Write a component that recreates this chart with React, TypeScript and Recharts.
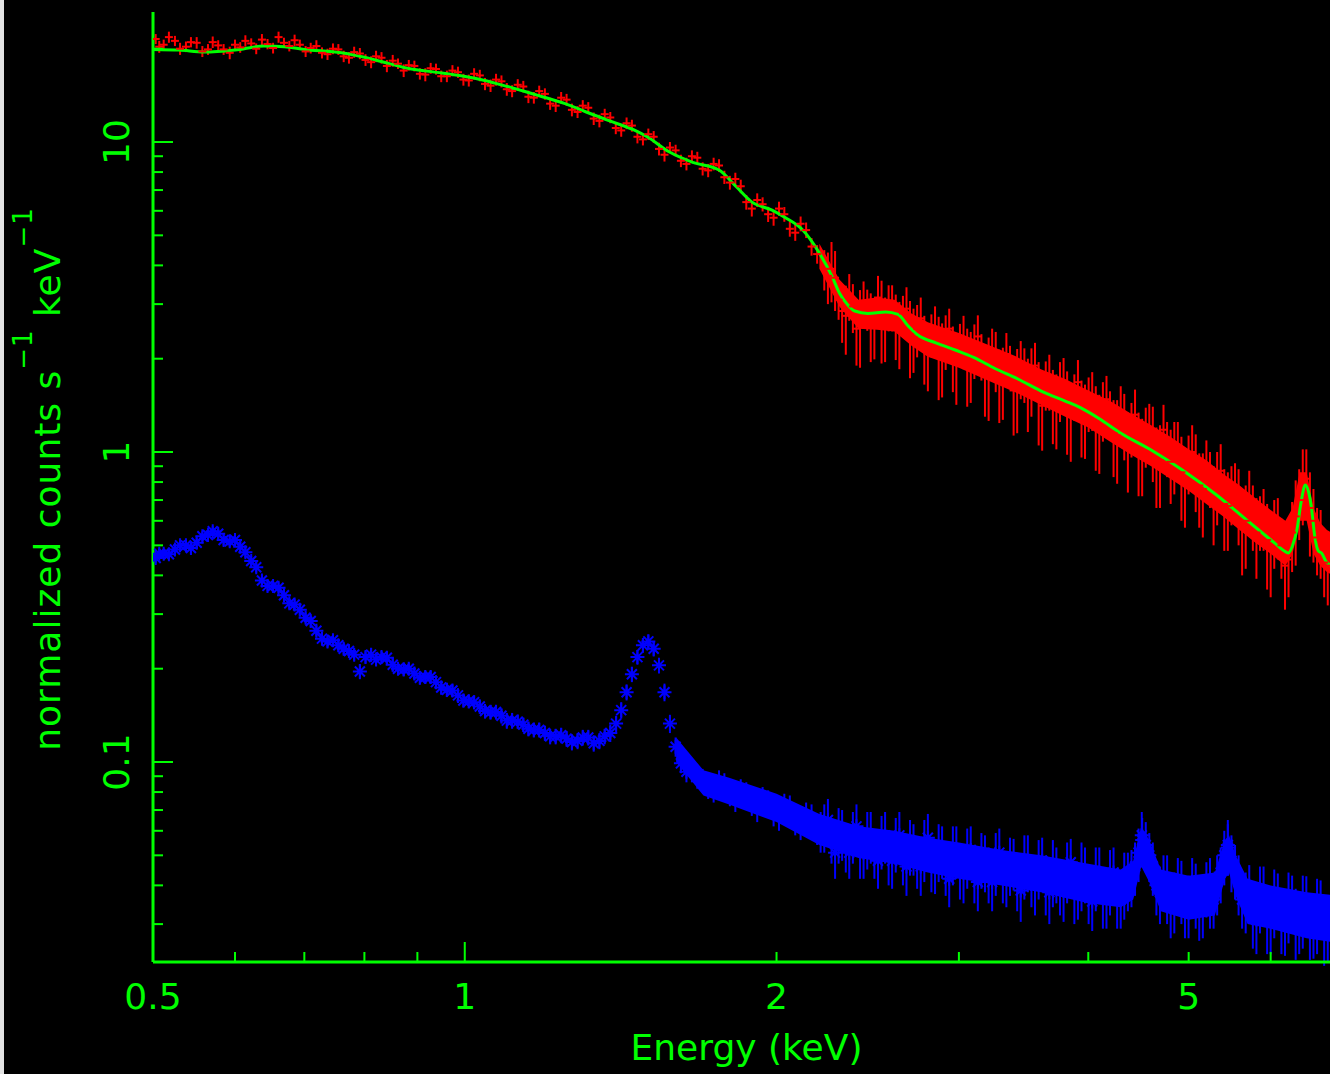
import React from "react";
import { ComposedChart, XAxis, YAxis, Scatter, Line, Area, ErrorBar } from "recharts";

const GREEN = "#00ff00";
const RED = "#ff0000";
const BLUE = "#0000ff";
const FONT = "'DejaVu Sans', Verdana, sans-serif";

// source spectrum (red), energy in keV
const redE = [
  0.503, 0.507, 0.512, 0.518, 0.525, 0.531, 0.538, 0.544, 0.551, 0.558,
  0.565, 0.571, 0.578, 0.585, 0.593, 0.6, 0.607, 0.614, 0.622, 0.629,
  0.637, 0.645, 0.653, 0.661, 0.669, 0.677, 0.685, 0.693, 0.702, 0.71,
  0.719, 0.728, 0.737, 0.746, 0.755, 0.764, 0.773, 0.782, 0.792, 0.802,
  0.812, 0.821, 0.831, 0.841, 0.852, 0.862, 0.873, 0.883, 0.894, 0.905,
  0.916, 0.927, 0.938, 0.949, 0.961, 0.973, 0.985, 0.997, 1.009, 1.021,
  1.034, 1.046, 1.059, 1.072, 1.085, 1.098, 1.111, 1.125, 1.139, 1.152,
  1.166, 1.18, 1.195, 1.209, 1.224, 1.239, 1.254, 1.269, 1.285, 1.3,
  1.316, 1.332, 1.349, 1.365, 1.382, 1.399, 1.416, 1.433, 1.45, 1.468,
  1.486, 1.504, 1.522, 1.54, 1.559, 1.578, 1.598, 1.617, 1.637, 1.657,
  1.677, 1.697, 1.718, 1.739, 1.76, 1.781, 1.803, 1.825, 1.847, 1.87,
  1.893, 1.916, 1.939, 1.963, 1.987, 2.011, 2.035, 2.06, 2.085, 2.11,
  2.136, 2.162, 2.189,
  2.224, 2.26, 2.296, 2.333, 2.37, 2.408, 2.447, 2.486, 2.526, 2.566,
  2.607, 2.649, 2.691, 2.734, 2.778, 2.822, 2.868, 2.913, 2.96, 3.007,
  3.056, 3.105, 3.154, 3.205, 3.256, 3.308, 3.361, 3.415, 3.47, 3.525,
  3.582, 3.639, 3.697, 3.756, 3.816, 3.878, 3.94, 4.003, 4.067, 4.132,
  4.198, 4.265, 4.333, 4.403, 4.473, 4.545, 4.617, 4.691, 4.766, 4.843,
  4.92, 4.999, 5.079, 5.16, 5.243, 5.327, 5.412, 5.499, 5.587, 5.676,
  5.767, 5.859, 5.953, 6.048, 6.145, 6.243, 6.343, 6.444, 6.547, 6.652,
  6.758, 6.866, 6.976,
  2.242, 2.278, 2.314, 2.351, 2.389, 2.427, 2.466, 2.506, 2.546, 2.586,
  2.628, 2.67, 2.712, 2.756, 2.8, 2.845, 2.89, 2.936, 2.983, 3.031,
  3.08, 3.129, 3.179, 3.23, 3.282, 3.334, 3.388, 3.442, 3.497, 3.553,
  3.61, 3.668, 3.726, 3.786, 3.847, 3.909, 3.971, 4.035, 4.099, 4.165,
  4.231, 4.299, 4.368, 4.438, 4.509, 4.581, 4.654, 4.728, 4.804, 4.881,
  4.959, 5.039, 5.119, 5.201, 5.285, 5.369, 5.455, 5.543, 5.631, 5.721,
  5.813, 5.906, 6.0, 6.096, 6.194, 6.293, 6.393, 6.495, 6.599, 6.705,
  6.812, 6.921,
];
const redY = [
  21.5, 20.3, 20.6, 21.8, 21.2, 20.0, 20.3, 21.0, 20.9, 19.6,
  19.9, 21.0, 20.5, 19.9, 19.4, 20.6, 20.2, 21.2, 20.8, 20.0,
  21.4, 20.7, 20.1, 21.8, 20.9, 20.4, 21.3, 20.6, 19.6, 20.1,
  20.4, 19.4, 19.2, 20.0, 19.9, 18.9, 18.7, 19.5, 19.3, 18.4,
  18.1, 18.9, 18.7, 17.6, 18.3, 17.9, 17.0, 17.7, 17.6, 16.6,
  16.5, 17.3, 17.2, 16.3, 16.3, 17.0, 16.8, 15.9, 15.8, 16.6,
  16.4, 15.4, 15.2, 15.9, 15.7, 14.8, 14.6, 15.3, 15.1, 14.0,
  13.9, 14.6, 14.3, 13.3, 13.1, 13.9, 13.7, 12.7, 12.5, 13.1,
  12.9, 11.9, 11.7, 12.3, 12.0, 11.1, 10.9, 11.5, 11.3, 10.4,
  10.2, 10.6, 10.4, 9.5, 9.1, 9.6, 9.4, 8.7, 8.5, 9.0,
  8.9, 8.2, 8.1, 8.5, 8.4, 7.7, 7.4, 7.6, 7.2, 6.4,
  6.1, 6.5, 6.3, 5.85, 5.7, 6.1, 5.85, 5.25, 5.1, 5.45,
  5.2, 4.6, 4.35,
  3.9, 3.9, 3.1, 2.75, 2.95, 2.6, 2.9, 2.55, 2.75, 2.95,
  2.6, 2.8, 2.4, 2.5, 2.2, 2.4, 2.1, 2.3, 2.05, 2.25,
  1.95, 2.15, 2.05, 1.8, 2.0, 1.72, 1.9, 1.65, 1.8, 1.73,
  1.5, 1.66, 1.45, 1.6, 1.4, 1.52, 1.33, 1.45, 1.25, 1.38,
  1.33, 1.13, 1.24, 1.2, 1.03, 1.14, 1.1, 0.94, 1.04, 0.99,
  0.86, 0.93, 0.89, 0.76, 0.83, 0.79, 0.68, 0.74, 0.69, 0.6,
  0.63, 0.6, 0.52, 0.56, 0.5, 0.45, 0.62, 0.8, 0.66, 0.53,
  0.44, 0.47, 0.43,
  3.7, 3.65, 2.85, 3.2, 2.5, 3.05, 2.6, 3.15, 2.55, 2.95,
  2.45, 2.9, 2.35, 2.7, 2.07, 2.5, 2.05, 2.5, 1.92, 2.3,
  1.94, 2.36, 1.75, 2.1, 1.69, 2.07, 1.58, 1.88, 1.58, 1.9,
  1.41, 1.71, 1.4, 1.69, 1.3, 1.68, 1.3, 1.49, 1.19, 1.48,
  1.15, 1.35, 1.04, 1.32, 1.0, 1.18, 0.93, 1.18, 0.93, 1.03,
  0.8, 1.0, 0.78, 0.89, 0.7, 0.87, 0.67, 0.75, 0.57, 0.71,
  0.55, 0.62, 0.48, 0.58, 0.43, 0.55, 0.7, 0.82, 0.6, 0.52,
  0.43, 0.46,
];
const redErr = [
  0.8, 0.9, 0.8, 0.9, 0.8, 0.9, 0.8, 0.8, 0.9, 0.8,
  0.8, 0.9, 0.8, 0.8, 0.9, 0.8, 0.8, 0.9, 0.8, 0.8,
  0.9, 0.8, 0.8, 0.9, 0.8, 0.8, 0.9, 0.8, 0.8, 0.8,
  0.9, 0.8, 0.8, 0.8, 0.8, 0.8, 0.8, 0.8, 0.8, 0.8,
  0.8, 0.8, 0.8, 0.8, 0.8, 0.7, 0.8, 0.7, 0.7, 0.7,
  0.8, 0.7, 0.7, 0.7, 0.7, 0.7, 0.7, 0.7, 0.7, 0.7,
  0.7, 0.7, 0.7, 0.7, 0.7, 0.7, 0.65, 0.65, 0.65, 0.65,
  0.6, 0.6, 0.6, 0.6, 0.6, 0.6, 0.6, 0.6, 0.55, 0.55,
  0.55, 0.55, 0.55, 0.5, 0.5, 0.5, 0.5, 0.5, 0.5, 0.5,
  0.45, 0.45, 0.45, 0.45, 0.45, 0.4, 0.4, 0.4, 0.4, 0.4,
  0.4, 0.4, 0.4, 0.4, 0.4, 0.38, 0.38, 0.36, 0.36, 0.35,
  0.35, 0.33, 0.33, 0.33, 0.33, 0.32, 0.32, 0.3, 0.3, 0.3,
  0.3, 0.3, 0.3,
  0.58, 0.86, 0.43, 0.69, 0.53, 0.73, 0.44, 0.56, 0.82, 0.5,
  0.62, 0.39, 0.67, 0.48, 0.55, 0.38, 0.63, 0.46, 0.49, 0.34,
  0.55, 0.43, 0.35, 0.54, 0.44, 0.45, 0.3, 0.5, 0.36, 0.43,
  0.45, 0.3, 0.39, 0.35, 0.42, 0.26, 0.37, 0.29, 0.38, 0.3,
  0.24, 0.34, 0.3, 0.24, 0.31, 0.25, 0.3, 0.28, 0.21, 0.26,
  0.26, 0.2, 0.25, 0.23, 0.17, 0.21, 0.2, 0.16, 0.19, 0.18,
  0.15, 0.12, 0.16, 0.14, 0.11, 0.11, 0.19, 0.22, 0.2, 0.13,
  0.1, 0.12, 0.09,
  0.7, 0.8, 0.6, 0.55, 0.6, 0.5, 0.65, 0.55, 0.6, 0.5,
  0.6, 0.5, 0.55, 0.45, 0.5, 0.45, 0.55, 0.4, 0.5, 0.45,
  0.5, 0.4, 0.45, 0.4, 0.45, 0.35, 0.45, 0.4, 0.42, 0.35,
  0.4, 0.35, 0.38, 0.32, 0.37, 0.3, 0.35, 0.32, 0.34, 0.28,
  0.32, 0.28, 0.3, 0.27, 0.28, 0.25, 0.27, 0.24, 0.25, 0.22,
  0.23, 0.22, 0.21, 0.2, 0.2, 0.19, 0.19, 0.17, 0.17, 0.16,
  0.16, 0.14, 0.14, 0.13, 0.12, 0.14, 0.18, 0.2, 0.16, 0.13,
  0.11, 0.12,
];

// background spectrum (blue)
const blueE = [
  0.503, 0.512, 0.525, 0.538, 0.551, 0.565, 0.578, 0.593, 0.607,
  0.622, 0.637, 0.653, 0.669, 0.685, 0.702, 0.719, 0.737,
  0.755, 0.773, 0.792, 0.812, 0.831, 0.852, 0.873, 0.894, 0.916, 0.938, 0.961, 0.985,
  1.009, 1.034, 1.059, 1.085, 1.111, 1.139, 1.166, 1.195, 1.224, 1.254, 1.285, 1.316, 1.349, 1.382,
  1.4, 1.416, 1.433, 1.45, 1.468, 1.486, 1.504, 1.522, 1.54, 1.559, 1.578, 1.598, 1.617, 1.637,
  1.677, 1.718, 1.76, 1.803, 1.847, 1.893, 1.939, 1.987, 2.035, 2.085, 2.136, 2.189,
  2.224, 2.26, 2.296, 2.333, 2.37, 2.408, 2.447, 2.486, 2.526, 2.566,
  2.607, 2.649, 2.691, 2.734, 2.778, 2.822, 2.868, 2.913, 2.96, 3.007,
  3.056, 3.105, 3.154, 3.205, 3.256, 3.308, 3.361, 3.415, 3.47, 3.525,
  3.582, 3.639, 3.697, 3.756, 3.816, 3.878, 3.94, 4.003, 4.067, 4.132, 4.198,
  4.265, 4.333, 4.403, 4.473, 4.505, 4.545, 4.617, 4.691, 4.766, 4.843, 4.92, 4.999,
  5.079, 5.16, 5.243, 5.327, 5.412, 5.455, 5.499, 5.587, 5.676, 5.767, 5.859, 5.953,
  6.048, 6.145, 6.243, 6.343, 6.444, 6.547, 6.652, 6.758, 6.866, 6.976,
  0.507, 0.518, 0.531, 0.544, 0.558, 0.571, 0.585, 0.6, 0.614, 0.629,
  0.645, 0.661, 0.677, 0.693, 0.71, 0.728, 0.746, 0.764, 0.782, 0.802,
  0.821, 0.841, 0.862, 0.883, 0.905, 0.927, 0.949, 0.973, 0.997, 1.021,
  1.046, 1.072, 1.098, 1.125, 1.152, 1.18, 1.209, 1.239, 1.269, 1.3,
  1.332, 1.365,
  1.657, 1.697, 1.739, 1.781, 1.825, 1.87, 1.916, 1.963, 2.011, 2.06, 2.11, 2.162, 2.206,
  2.242, 2.278, 2.314, 2.351, 2.389, 2.427, 2.466, 2.506, 2.546, 2.586,
  2.628, 2.67, 2.712, 2.756, 2.8, 2.845, 2.89, 2.936, 2.983, 3.031,
  3.08, 3.129, 3.179, 3.23, 3.282, 3.334, 3.388, 3.442, 3.497, 3.553,
  3.61, 3.668, 3.726, 3.786, 3.847, 3.909, 3.971, 4.035, 4.099, 4.165,
  4.231, 4.299, 4.368, 4.438, 4.509, 4.581, 4.654, 4.728, 4.804, 4.881,
  4.959, 5.039, 5.119, 5.201, 5.285, 5.369, 5.455, 5.543, 5.631, 5.721,
  5.813, 5.906, 6.0, 6.096, 6.194, 6.293, 6.393, 6.495, 6.599, 6.705,
  6.812, 6.921,
];
const blueY = [
  0.455, 0.47, 0.485, 0.5, 0.51, 0.54, 0.545, 0.515, 0.495,
  0.445, 0.385, 0.37, 0.345, 0.322, 0.292, 0.265, 0.245,
  0.238, 0.228, 0.196, 0.222, 0.218, 0.206, 0.199, 0.193, 0.188, 0.181, 0.171, 0.164,
  0.157, 0.151, 0.145, 0.141, 0.136, 0.132, 0.127, 0.124, 0.121, 0.119, 0.117, 0.12, 0.117, 0.124,
  0.133, 0.147, 0.168, 0.192, 0.218, 0.238, 0.245, 0.232, 0.205, 0.168, 0.133, 0.112, 0.099, 0.093,
  0.09, 0.083, 0.086, 0.079, 0.08, 0.074, 0.075, 0.069, 0.071, 0.065, 0.066, 0.061,
  0.062, 0.056, 0.059, 0.053, 0.058, 0.052, 0.057, 0.051, 0.056, 0.05,
  0.055, 0.049, 0.054, 0.048, 0.053, 0.047, 0.052, 0.046, 0.051, 0.045,
  0.05, 0.044, 0.049, 0.044, 0.048, 0.043, 0.047, 0.042, 0.047, 0.042,
  0.046, 0.041, 0.045, 0.04, 0.045, 0.039, 0.044, 0.038, 0.043, 0.037, 0.042,
  0.037, 0.041, 0.043, 0.051, 0.058, 0.054, 0.046, 0.038, 0.04, 0.036, 0.039, 0.035,
  0.038, 0.035, 0.039, 0.041, 0.05, 0.054, 0.048, 0.041, 0.036, 0.033, 0.037, 0.032,
  0.036, 0.031, 0.035, 0.031, 0.034, 0.03, 0.033, 0.029, 0.032, 0.029,
  0.47, 0.468, 0.5, 0.49, 0.535, 0.555, 0.52, 0.52, 0.475, 0.425,
  0.37, 0.365, 0.325, 0.31, 0.285, 0.25, 0.247, 0.232, 0.222, 0.218,
  0.214, 0.217, 0.2, 0.2, 0.187, 0.188, 0.174, 0.17, 0.158, 0.156,
  0.146, 0.145, 0.136, 0.135, 0.128, 0.127, 0.121, 0.122, 0.116, 0.12,
  0.115, 0.121,
  0.094, 0.088, 0.082, 0.085, 0.077, 0.079, 0.072, 0.074, 0.068, 0.07, 0.064, 0.065, 0.06,
  0.065, 0.051, 0.059, 0.051, 0.062, 0.051, 0.058, 0.048, 0.058, 0.048,
  0.058, 0.046, 0.053, 0.046, 0.057, 0.0465, 0.052, 0.042, 0.052, 0.044,
  0.052, 0.041, 0.048, 0.041, 0.051, 0.042, 0.0475, 0.0385, 0.048, 0.04,
  0.048, 0.038, 0.044, 0.0385, 0.0475, 0.039, 0.044, 0.0355, 0.044, 0.037,
  0.044, 0.036, 0.042, 0.046, 0.056, 0.05, 0.04, 0.042, 0.034, 0.041,
  0.034, 0.041, 0.0335, 0.0395, 0.036, 0.044, 0.053, 0.045, 0.036, 0.0385,
  0.031, 0.038, 0.031, 0.0367, 0.0297, 0.036, 0.03, 0.0358, 0.0292, 0.0345,
  0.0285, 0.0338,
];
const blueErr = [
  0.018, 0.018, 0.019, 0.02, 0.02, 0.021, 0.021, 0.02, 0.02,
  0.018, 0.016, 0.015, 0.014, 0.013, 0.012, 0.011, 0.011,
  0.011, 0.01, 0.011, 0.011, 0.01, 0.01, 0.01, 0.009, 0.009, 0.009, 0.009, 0.009,
  0.008, 0.008, 0.008, 0.008, 0.008, 0.007, 0.007, 0.007, 0.007, 0.007, 0.007, 0.007, 0.007, 0.008,
  0.008, 0.009, 0.01, 0.011, 0.012, 0.013, 0.013, 0.013, 0.012, 0.011, 0.009, 0.008, 0.007, 0.007,
  0.008, 0.007, 0.008, 0.007, 0.008, 0.007, 0.008, 0.007, 0.008, 0.007, 0.008, 0.007,
  0.011, 0.009, 0.012, 0.009, 0.011, 0.01, 0.012, 0.009, 0.011, 0.01,
  0.011, 0.009, 0.011, 0.009, 0.012, 0.009, 0.011, 0.009, 0.011, 0.009,
  0.011, 0.009, 0.01, 0.009, 0.011, 0.008, 0.01, 0.009, 0.011, 0.008,
  0.01, 0.009, 0.011, 0.008, 0.01, 0.009, 0.011, 0.008, 0.01, 0.008, 0.01,
  0.008, 0.01, 0.009, 0.01, 0.011, 0.01, 0.009, 0.008, 0.01, 0.008, 0.009, 0.008,
  0.009, 0.008, 0.01, 0.009, 0.01, 0.011, 0.01, 0.009, 0.008, 0.008, 0.009, 0.008,
  0.009, 0.007, 0.009, 0.008, 0.009, 0.007, 0.009, 0.007, 0.008, 0.007,
  0.018, 0.018, 0.019, 0.02, 0.02, 0.021, 0.021, 0.02, 0.019, 0.017,
  0.015, 0.015, 0.013, 0.013, 0.012, 0.011, 0.011, 0.01, 0.01, 0.01,
  0.01, 0.01, 0.009, 0.009, 0.009, 0.009, 0.009, 0.008, 0.008, 0.008,
  0.008, 0.008, 0.008, 0.007, 0.007, 0.007, 0.007, 0.007, 0.007, 0.007,
  0.007, 0.007,
  0.008, 0.007, 0.008, 0.007, 0.008, 0.007, 0.008, 0.007, 0.008, 0.008, 0.008, 0.008, 0.009,
  0.011, 0.009, 0.011, 0.009, 0.011, 0.009, 0.011, 0.009, 0.011, 0.009,
  0.011, 0.009, 0.01, 0.009, 0.011, 0.009, 0.01, 0.008, 0.01, 0.009,
  0.01, 0.008, 0.01, 0.008, 0.01, 0.008, 0.009, 0.008, 0.01, 0.008,
  0.009, 0.008, 0.009, 0.008, 0.009, 0.008, 0.009, 0.007, 0.009, 0.008,
  0.009, 0.007, 0.009, 0.009, 0.01, 0.009, 0.008, 0.008, 0.007, 0.008,
  0.007, 0.008, 0.007, 0.008, 0.007, 0.009, 0.01, 0.009, 0.007, 0.008,
  0.007, 0.008, 0.007, 0.007, 0.006, 0.007, 0.006, 0.007, 0.006, 0.007,
  0.006, 0.007,
];

// best-fit model (green)
const modelE = [
  0.5, 0.53, 0.56, 0.6, 0.64, 0.67, 0.7, 0.76, 0.82, 0.88, 0.95, 1.02, 1.1, 1.18, 1.25, 1.31, 1.38,
  1.46, 1.5, 1.575, 1.66, 1.76, 1.83, 1.894, 1.98, 2.04, 2.12, 2.19, 2.264, 2.3, 2.34, 2.38, 2.45,
  2.55, 2.62, 2.68, 2.74, 2.85, 2.98, 3.1, 3.25, 3.42, 3.62, 3.8, 3.93, 4.1, 4.3, 4.6, 4.93, 5.32,
  5.69, 6.05, 6.18, 6.24, 6.3, 6.36, 6.42, 6.48, 6.53, 6.57, 6.62, 6.67, 6.72, 6.79, 6.86, 7.0,
];
const modelY = [
  19.9, 19.8, 19.5, 19.8, 20.4, 20.3, 19.9, 19.4, 18.4, 17.3, 16.7, 16.1, 15.1, 14.1, 13.3, 12.5, 11.7,
  10.9, 10.4, 9.3, 8.6, 8.12, 7.16, 6.4, 6.03, 5.7, 5.2, 4.49, 3.67, 3.26, 3.0, 2.85, 2.8,
  2.83, 2.78, 2.55, 2.38, 2.25, 2.13, 2.02, 1.86, 1.72, 1.56, 1.46, 1.39, 1.28, 1.15, 1.015, 0.875, 0.727,
  0.603, 0.509, 0.48, 0.472, 0.5, 0.56, 0.69, 0.783, 0.74, 0.66, 0.53, 0.48, 0.472, 0.442, 0.43, 0.41,
];

// solid core of the overlapping red error bars above 2.2 keV
const redBandE = [
  2.2, 2.3, 2.4, 2.5, 2.6, 2.7, 2.8, 3.0, 3.2, 3.4, 3.6, 3.8, 4.0, 4.2, 4.4, 4.6,
  4.8, 5.0, 5.2, 5.4, 5.6, 5.8, 6.0, 6.2, 6.3, 6.4, 6.5, 6.6, 6.7, 6.8, 7.0,
];
const redBandLo = [
  3.9, 2.95, 2.5, 2.48, 2.45, 2.2, 2.03, 1.87, 1.7, 1.56, 1.42, 1.3, 1.2, 1.08, 0.98, 0.9,
  0.82, 0.75, 0.68, 0.62, 0.56, 0.51, 0.47, 0.43, 0.47, 0.6, 0.6, 0.47, 0.43, 0.41, 0.39,
];
const redBandHi = [
  4.7, 3.6, 3.1, 3.15, 3.1, 2.8, 2.62, 2.42, 2.22, 2.04, 1.85, 1.72, 1.58, 1.46, 1.33, 1.22,
  1.12, 1.02, 0.94, 0.85, 0.78, 0.71, 0.65, 0.6, 0.66, 0.86, 0.86, 0.66, 0.59, 0.56, 0.53,
];

// solid core of the overlapping blue error bars above 1.6 keV
const blueBandE = [
  1.6, 1.7, 1.8, 2.0, 2.2, 2.4, 2.6, 2.8, 3.0, 3.3, 3.6, 4.0, 4.3, 4.42, 4.5, 4.58,
  4.7, 5.0, 5.3, 5.42, 5.47, 5.55, 5.7, 6.0, 6.5, 7.0,
];
const blueBandLo = [
  0.1, 0.078, 0.073, 0.064, 0.054, 0.049, 0.047, 0.044, 0.042, 0.04, 0.038, 0.035, 0.034, 0.036, 0.046, 0.041,
  0.033, 0.031, 0.032, 0.042, 0.044, 0.037, 0.03, 0.029, 0.027, 0.026,
];
const blueBandHi = [
  0.12, 0.094, 0.089, 0.079, 0.068, 0.062, 0.06, 0.057, 0.055, 0.052, 0.05, 0.047, 0.045, 0.048, 0.062, 0.056,
  0.045, 0.043, 0.044, 0.056, 0.058, 0.05, 0.042, 0.04, 0.038, 0.037,
];

const xTicks = [0.5, 0.6, 0.7, 0.8, 0.9, 1, 2, 3, 4, 5, 6, 7];
const xMajor = [1];
const xLabels = [0.5, 1, 2, 5];
const yTicks = [
  0.03, 0.04, 0.05, 0.06, 0.07, 0.08, 0.09, 0.1, 0.2, 0.3, 0.4, 0.5, 0.6, 0.7, 0.8, 0.9,
  1, 2, 3, 4, 5, 6, 7, 8, 9, 10, 20,
];
const yMajor = [0.1, 1, 10];
const yLabels = [0.1, 1, 10];

const redData = redE.map((e, i) => ({ e, v: redY[i], err: redErr[i] }));
const blueData = blueE.map((e, i) => ({ e, v: blueY[i], err: blueErr[i] }));
const modelData = modelE.map((e, i) => ({ e, v: modelY[i] }));
const redBand = redBandE.map((e, i) => ({ e, band: [redBandLo[i], redBandHi[i]] }));
const blueBand = blueBandE.map((e, i) => ({ e, band: [blueBandLo[i], blueBandHi[i]] }));

type Side = "bottom" | "top" | "left" | "right";

const makeTick = (side: Side, major: number[], labels: number[]) => (props: any) => {
  const { x, y, payload } = props;
  const value = payload.value;
  const len = major.includes(value) ? 20 : 10;
  const dx = side === "left" ? len : side === "right" ? -len : 0;
  const dy = side === "bottom" ? -len : side === "top" ? len : 0;
  const show = labels.includes(value);
  return (
    <g>
      <line x1={x} y1={y} x2={x + dx} y2={y + dy} stroke={GREEN} strokeWidth={2} />
      {show && side === "bottom" && (
        <text x={x} y={y + 47} textAnchor="middle" fill={GREEN} fontSize={36} fontFamily={FONT}>
          {value}
        </text>
      )}
      {show && side === "left" && (
        <text
          x={x - 24}
          y={y}
          transform={`rotate(-90 ${x - 24} ${y})`}
          textAnchor="middle"
          fill={GREEN}
          fontSize={36}
          fontFamily={FONT}
        >
          {value}
        </text>
      )}
    </g>
  );
};

const xTitle = (props: any) => {
  const { x, y, width } = props.viewBox;
  return (
    <text x={x + width / 2} y={y + 98} textAnchor="middle" fill={GREEN} fontSize={36} fontFamily={FONT}>
      Energy (keV)
    </text>
  );
};

const yTitle = (props: any) => {
  const { x, y, height } = props.viewBox;
  const cx = x + 60;
  const cy = y + height / 2 - 8;
  return (
    <text
      x={cx}
      y={cy}
      transform={`rotate(-90 ${cx} ${cy})`}
      textAnchor="middle"
      fill={GREEN}
      fontSize={36}
      fontFamily={FONT}
      letterSpacing={1}
    >
      normalized counts s
      <tspan fontSize={26} dy={-28}>−1</tspan>
      <tspan dy={28}> keV</tspan>
      <tspan fontSize={26} dy={-28}>−1</tspan>
    </text>
  );
};

const redShape = (p: any) => (
  <line x1={p.cx - 4} x2={p.cx + 4} y1={p.cy} y2={p.cy} stroke={RED} strokeWidth={2} />
);

const blueShape = (p: any) => {
  const { cx, cy } = p;
  const d = `M${cx - 7},${cy}H${cx + 7}M${cx},${cy - 7}V${cy + 7}M${cx - 5},${cy - 5}L${cx + 5},${cy + 5}M${cx - 5},${cy + 5}L${cx + 5},${cy - 5}`;
  return <path d={d} stroke={BLUE} strokeWidth={2} fill="none" />;
};

const axisLine = { stroke: GREEN, strokeWidth: 3 };
const xDomain: [number, number] = [0.5, 7];
const yDomain: [number, number] = [0.02264, 26.27];

export default function App() {
  return (
    <div
      style={{
        position: "fixed",
        left: 0,
        top: 0,
        width: 1330,
        height: 1074,
        background: "#000",
        overflow: "hidden",
      }}
    >
      <div style={{ position: "absolute", left: 0, top: 0, width: 4, height: 1074, background: "#e4e4e4" }} />
      <ComposedChart width={1400} height={1074} margin={{ top: 12, right: 60, bottom: 0, left: 0 }}>
        <XAxis
          xAxisId="b"
          type="number"
          dataKey="e"
          scale="log"
          domain={xDomain}
          allowDataOverflow
          ticks={xTicks}
          interval={0}
          tickSize={0}
          tickMargin={0}
          tickLine={false}
          axisLine={axisLine}
          tick={makeTick("bottom", xMajor, xLabels)}
          height={112}
          label={xTitle}
        />
        <XAxis
          xAxisId="t"
          orientation="top"
          type="number"
          dataKey="e"
          scale="log"
          domain={xDomain}
          allowDataOverflow
          ticks={xTicks}
          interval={0}
          tickSize={0}
          tickMargin={0}
          tickLine={false}
          axisLine={axisLine}
          tick={makeTick("top", xMajor, [])}
          height={0}
        />
        <YAxis
          yAxisId="l"
          type="number"
          dataKey="v"
          scale="log"
          domain={yDomain}
          allowDataOverflow
          ticks={yTicks}
          interval={0}
          tickSize={0}
          tickMargin={0}
          tickLine={false}
          axisLine={axisLine}
          tick={makeTick("left", yMajor, yLabels)}
          width={153}
          label={yTitle}
        />
        <YAxis
          yAxisId="r"
          orientation="right"
          type="number"
          dataKey="v"
          scale="log"
          domain={yDomain}
          allowDataOverflow
          ticks={yTicks}
          interval={0}
          tickSize={0}
          tickMargin={0}
          tickLine={false}
          axisLine={axisLine}
          tick={makeTick("right", yMajor, [])}
          width={0}
        />
        <Area
          data={redBand}
          dataKey="band"
          xAxisId="b"
          yAxisId="l"
          type="linear"
          stroke="none"
          fill={RED}
          fillOpacity={1}
          dot={false}
          activeDot={false}
          isAnimationActive={false}
        />
        <Scatter data={redData} dataKey="v" xAxisId="b" yAxisId="l" shape={redShape} isAnimationActive={false}>
          <ErrorBar dataKey="err" direction="y" width={0} stroke={RED} strokeWidth={2} isAnimationActive={false} />
        </Scatter>
        <Area
          data={blueBand}
          dataKey="band"
          xAxisId="b"
          yAxisId="l"
          type="linear"
          stroke="none"
          fill={BLUE}
          fillOpacity={1}
          dot={false}
          activeDot={false}
          isAnimationActive={false}
        />
        <Scatter data={blueData} dataKey="v" xAxisId="b" yAxisId="l" shape={blueShape} isAnimationActive={false}>
          <ErrorBar dataKey="err" direction="y" width={0} stroke={BLUE} strokeWidth={2} isAnimationActive={false} />
        </Scatter>
        <Line
          data={modelData}
          dataKey="v"
          xAxisId="b"
          yAxisId="l"
          type="monotone"
          stroke={GREEN}
          strokeWidth={3}
          dot={false}
          activeDot={false}
          isAnimationActive={false}
        />
      </ComposedChart>
    </div>
  );
}
